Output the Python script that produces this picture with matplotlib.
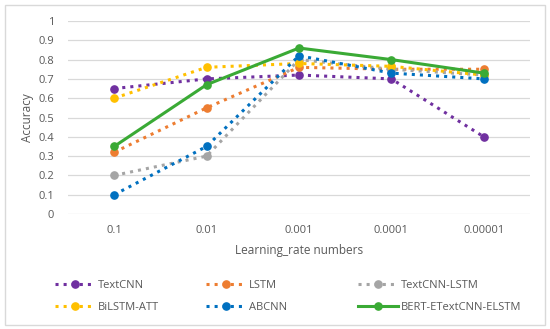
import matplotlib.pyplot as plt
from matplotlib.patches import Rectangle

# Learning rates on the x axis
learning_rates = ['0.1', '0.01', '0.001', '0.0001', '0.00001']

# Accuracy of each model
textcnn = [0.65, 0.70, 0.72, 0.70, 0.40]
lstm = [0.32, 0.55, 0.76, 0.75, 0.75]
textcnn_lstm = [0.20, 0.30, 0.80, 0.75, 0.72]
bilstm_att = [0.60, 0.76, 0.78, 0.765, 0.72]
abcnn = [0.10, 0.35, 0.82, 0.73, 0.70]
bert = [0.35, 0.67, 0.86, 0.80, 0.73]

plt.rcParams['font.family'] = ['Open Sans', 'DejaVu Sans']
fig = plt.figure(figsize=(5.5, 3.29), dpi=100)
ax = fig.add_axes([68 / 550, 1 - 214 / 329, (530 - 68) / 550, (214 - 21) / 329])

x = range(len(learning_rates))
series = [
    ('TextCNN', textcnn, '#7030A0', ':'),
    ('LSTM', lstm, '#ED7D31', ':'),
    ('TextCNN-LSTM', textcnn_lstm, '#A5A5A5', ':'),
    ('BiLSTM-ATT', bilstm_att, '#FFC000', ':'),
    ('ABCNN', abcnn, '#0070C0', ':'),
    ('BERT-ETextCNN-ELSTM', bert, '#3AAA35', '-'),
]
handles = {}
for name, vals, color, ls in series:
    h, = ax.plot(x, vals, linestyle=ls, color=color, linewidth=2.2,
                 marker='o', markersize=5.2, label=name)
    handles[name] = h

ax.set_xlim(-0.5, 4.5)
ax.set_ylim(0, 1)
ax.set_yticks([i / 10 for i in range(11)])
ax.set_yticklabels(['0', '0.1', '0.2', '0.3', '0.4', '0.5', '0.6', '0.7', '0.8', '0.9', '1'])
ax.set_xticks(list(x))
ax.set_xticklabels(learning_rates)
ax.tick_params(length=0, labelsize=8, labelcolor='#595959', pad=8)
ax.tick_params(axis='y', pad=10)
ax.grid(axis='y', color='#D9D9D9', linewidth=0.9)
ax.set_axisbelow(True)
for s in ax.spines.values():
    s.set_visible(False)

ax.set_ylabel('Accuracy', fontsize=8.5, color='#595959', labelpad=3)
ax.set_xlabel('Learning_rate numbers', fontsize=8.5, color='#595959', labelpad=6)

# legend as three columns placed where the reference has them
columns = [(['TextCNN', 'BiLSTM-ATT'], 45), (['LSTM', 'ABCNN'], 196),
           (['TextCNN-LSTM', 'BERT-ETextCNN-ELSTM'], 348)]
for names, left in columns:
    fig.legend([handles[n] for n in names], names, loc='upper left',
               bbox_to_anchor=(left / 550, 1 - 270 / 329), frameon=False,
               fontsize=8, labelcolor='#595959', handlelength=3.6,
               handletextpad=0.3, labelspacing=0.95, numpoints=1)

fig.patches.append(Rectangle((5 / 550, 4 / 329), 540 / 550, 320 / 329,
                             transform=fig.transFigure, fill=False,
                             edgecolor='#D9D9D9', linewidth=1))

fig.savefig('out.png', dpi=100)
